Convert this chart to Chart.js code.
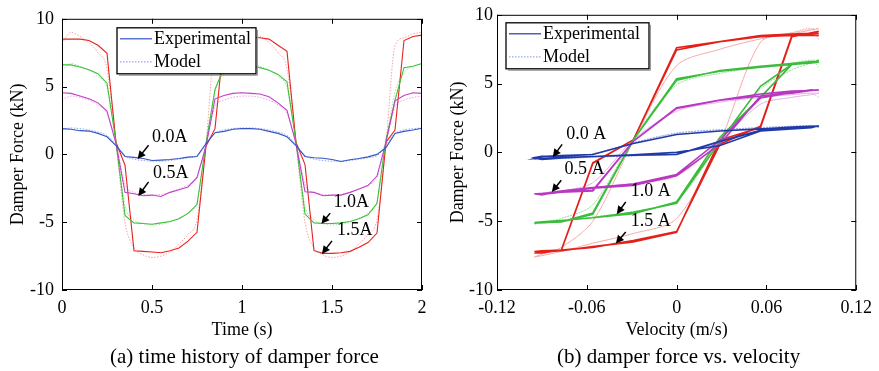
<!DOCTYPE html>
<html>
<head>
<meta charset="UTF-8">
<title>damper force</title>
<script src="https://cdn.jsdelivr.net/npm/chart.js@4.4.0/dist/chart.umd.min.js"></script>
<style>
    body {
        margin: 0;
        background: #fff;
        width: 879px;
        height: 371px;
        overflow: hidden;
        position: relative;
        font-family: 'Liberation Serif', 'Times New Roman', serif;
    }
    .panel { position: absolute; top: 0; height: 345px; }
    #boxA { left: 0; width: 440px; }
    #boxB { left: 440px; width: 439px; }
    .cap {
        position: absolute;
        top: 344px;
        font-size: 21px;
        line-height: 24px;
        white-space: nowrap;
        color: #000;
    }
    #capA { left: 110px; }
    #capB { left: 557px; }
</style>
</head>
<body>
<div class="panel" id="boxA"><canvas id="chartA"></canvas></div>
<div class="panel" id="boxB"><canvas id="chartB"></canvas></div>
<div class="cap" id="capA">(a) time history of damper force</div>
<div class="cap" id="capB">(b) damper force vs. velocity</div>

<script>
// sample times (s)
const timeS = [0, 0.05, 0.1, 0.15, 0.2, 0.25, 0.3, 0.35, 0.4, 0.45, 0.5, 0.55, 0.6, 0.65, 0.7, 0.75, 0.8, 0.85, 0.9, 0.95, 1.0,
               1.05, 1.1, 1.15, 1.2, 1.25, 1.3, 1.35, 1.4, 1.45, 1.5, 1.55, 1.6, 1.65, 1.7, 1.75, 1.8, 1.85, 1.9, 1.95, 2.0];
// velocity at the same samples (m/s)
const velocity = [0.095, 0.090, 0.077, 0.056, 0.029, 0.0, -0.029, -0.056, -0.077, -0.090, -0.095, -0.090, -0.077, -0.056, -0.029, 0.0, 0.029, 0.056, 0.077, 0.090, 0.095,
                  0.090, 0.077, 0.056, 0.029, 0.0, -0.029, -0.056, -0.077, -0.090, -0.095, -0.090, -0.077, -0.056, -0.029, 0.0, 0.029, 0.056, 0.077, 0.090, 0.095];

// experimental damper force (kN)
const exp00 = [1.9, 1.85, 1.75, 1.72, 1.55, 1.3, 0.65, -0.15, -0.22, -0.3, -0.45, -0.42, -0.38, -0.3, -0.2, -0.15, 0.8, 1.6, 1.7, 1.85, 1.9,
               1.9, 1.85, 1.7, 1.55, 1.3, 0.65, -0.15, -0.25, -0.28, -0.38, -0.52, -0.4, -0.3, -0.18, 0.0, 0.5, 1.55, 1.7, 1.8, 1.93];
const exp05 = [4.55, 4.5, 4.3, 4.1, 3.8, 3.2, 0.8, -2.8, -2.9, -3.05, -3.0, -3.1, -2.8, -2.6, -2.4, -1.7, 0.6, 4.1, 4.35, 4.5, 4.55,
               4.5, 4.45, 4.25, 3.8, 3.25, 0.8, -2.75, -2.8, -3.05, -3.0, -3.0, -2.8, -2.55, -2.3, -1.6, 0.9, 3.95, 4.35, 4.55, 4.5];
const exp10 = [6.6, 6.6, 6.45, 6.25, 5.95, 5.25, 0.9, -4.5, -5.05, -5.1, -5.15, -5.05, -4.95, -4.75, -4.35, -3.7, 0.8, 4.8, 6.4, 6.5, 6.55,
               6.5, 6.4, 6.2, 5.9, 5.35, 0.9, -4.4, -5.05, -5.1, -5.1, -5.05, -4.95, -4.75, -4.45, -3.6, 1.1, 4.0, 6.4, 6.5, 6.7];
const exp15 = [8.5, 8.5, 8.5, 8.4, 8.05, 7.45, 0.9, -0.8, -7.1, -7.15, -7.2, -7.25, -7.1, -6.9, -6.4, -5.75, 0.6, 1.9, 8.5, 8.6, 8.65,
               8.65, 8.6, 8.5, 8.05, 7.6, 0.9, -0.75, -7.1, -7.3, -7.3, -7.25, -7.15, -6.85, -6.5, -5.8, 0.9, 1.8, 8.4, 8.7, 8.8];

// model damper force (kN)
const mod00 = [1.8, 1.95, 1.9, 1.8, 1.65, 1.4, 0.7, -0.1, -0.35, -0.45, -0.5, -0.5, -0.45, -0.35, -0.25, -0.1, 0.7, 1.55, 1.8, 1.9, 1.95,
               1.95, 1.9, 1.8, 1.65, 1.4, 0.7, -0.1, -0.35, -0.45, -0.5, -0.5, -0.45, -0.35, -0.25, -0.1, 0.7, 1.55, 1.8, 1.9, 1.95];
const mod05 = [4.0, 4.3, 4.2, 4.0, 3.65, 3.0, 0.9, -2.2, -2.8, -2.95, -3.0, -2.95, -2.8, -2.55, -2.25, -1.7, 0.8, 3.5, 4.0, 4.2, 4.3,
               4.3, 4.2, 4.0, 3.65, 3.0, 0.9, -2.2, -2.8, -2.95, -3.0, -2.95, -2.8, -2.55, -2.25, -1.7, 0.8, 3.5, 4.0, 4.2, 4.3];
const mod10 = [6.2, 6.7, 6.5, 6.2, 5.75, 4.9, 1.0, -3.8, -4.8, -5.1, -5.2, -5.15, -5.0, -4.7, -4.3, -3.5, 0.8, 4.6, 6.0, 6.5, 6.7,
               6.7, 6.5, 6.2, 5.75, 4.9, 1.0, -3.8, -4.8, -5.1, -5.2, -5.15, -5.0, -4.7, -4.3, -3.5, 0.8, 4.6, 6.0, 6.5, 6.7];
const mod15 = [8.2, 9.0, 8.7, 8.25, 7.5, 6.3, 0.8, -5.0, -6.9, -7.4, -7.6, -7.5, -7.2, -6.6, -5.9, -4.8, 0.8, 8.0, 8.6, 8.9, 9.0,
               8.95, 8.7, 8.25, 7.5, 6.3, 0.8, -5.0, -6.9, -7.4, -7.6, -7.5, -7.2, -6.6, -5.9, -4.8, 0.8, 8.0, 8.6, 8.9, 9.0];

// axis ticks
const yTicks = [-10, -5, 0, 5, 10];
const xTicksA = [0, 0.5, 1, 1.5, 2];
const xTickLabelsA = ['0', '0.5', '1', '1.5', '2'];
const xTicksB = [-0.12, -0.06, 0, 0.06, 0.12];
const xTickLabelsB = ['-0.12', '-0.06', '0', '0.06', '0.12'];

// current labels
const currents = ['0.0A', '0.5A', '1.0A', '1.5A'];

const FONT = "'Liberation Serif', 'Times New Roman', serif";
const expColors = ['#3355c0', '#c040c8', '#3cc03c', '#e8231e'];
const expColorsB = ['#1f3aa6', '#b838c0', '#3cbc3c', '#e4201b'];
const modColors = ['#9aa6ea', '#e6a6ea', '#a6e2a6', '#f5a4a4'];
const expSets = [exp00, exp05, exp10, exp15];
const modSets = [mod00, mod05, mod10, mod15];

// inward ticks + frame box
const framePlugin = {
    id: 'frameBox',
    afterDatasetsDraw(chart) {
        const {ctx, chartArea: a, scales: {x, y}} = chart;
        const len = 5;
        ctx.save();
        ctx.strokeStyle = '#000';
        ctx.lineWidth = 1;
        ctx.strokeRect(a.left + 0.5, a.top + 0.5, a.right - a.left - 1, a.bottom - a.top - 1);
        ctx.beginPath();
        x.ticks.forEach(t => {
            const px = Math.round(x.getPixelForValue(t.value)) + 0.5;
            ctx.moveTo(px, a.bottom); ctx.lineTo(px, a.bottom - len);
            ctx.moveTo(px, a.top); ctx.lineTo(px, a.top + len);
        });
        y.ticks.forEach(t => {
            const py = Math.round(y.getPixelForValue(t.value)) + 0.5;
            ctx.moveTo(a.left, py); ctx.lineTo(a.left + len, py);
            ctx.moveTo(a.right, py); ctx.lineTo(a.right - len, py);
        });
        ctx.stroke();
        ctx.restore();
    }
};

// arrows with current labels + legend box
const notePlugin = {
    id: 'notes',
    afterDraw(chart, args, opts) {
        const {ctx, chartArea: a, scales: {x, y}} = chart;
        ctx.save();
        ctx.font = '18px ' + FONT;
        ctx.fillStyle = '#000';
        ctx.strokeStyle = '#000';
        ctx.textBaseline = 'middle';
        ctx.textAlign = 'left';
        opts.notes.forEach(n => {
            ctx.fillText(n.text, x.getPixelForValue(n.tx), y.getPixelForValue(n.ty));
            const x1 = x.getPixelForValue(n.from[0]), y1 = y.getPixelForValue(n.from[1]);
            const x2 = x.getPixelForValue(n.to[0]), y2 = y.getPixelForValue(n.to[1]);
            const ang = Math.atan2(y2 - y1, x2 - x1);
            ctx.lineWidth = 1.5;
            ctx.beginPath();
            ctx.moveTo(x1, y1);
            ctx.lineTo(x2 - 4 * Math.cos(ang), y2 - 4 * Math.sin(ang));
            ctx.stroke();
            ctx.beginPath();
            ctx.moveTo(x2, y2);
            ctx.lineTo(x2 - 8 * Math.cos(ang) + 4 * Math.sin(ang), y2 - 8 * Math.sin(ang) - 4 * Math.cos(ang));
            ctx.lineTo(x2 - 8 * Math.cos(ang) - 4 * Math.sin(ang), y2 - 8 * Math.sin(ang) + 4 * Math.cos(ang));
            ctx.closePath();
            ctx.fill();
        });

        // legend
        const L = opts.legend;
        const lx = a.left + L.dx, ly = a.top + L.dy;
        ctx.fillStyle = '#fff';
        ctx.fillRect(lx, ly, L.w, L.h);
        ctx.strokeStyle = '#999';
        ctx.lineWidth = 1;
        ctx.beginPath();
        ctx.moveTo(lx + 2, ly + L.h + 1.5); ctx.lineTo(lx + L.w + 1.5, ly + L.h + 1.5); ctx.lineTo(lx + L.w + 1.5, ly + 2);
        ctx.stroke();
        ctx.strokeStyle = '#000';
        ctx.lineWidth = 1.3;
        ctx.strokeRect(lx, ly, L.w, L.h);
        const rows = [
            {text: 'Experimental', color: L.expColor, dash: [], dy: 11},
            {text: 'Model', color: modColors[0], dash: [1.5, 1.5], dy: 34}
        ];
        rows.forEach(r => {
            ctx.strokeStyle = r.color;
            ctx.lineWidth = 1.2;
            ctx.setLineDash(r.dash);
            ctx.beginPath();
            ctx.moveTo(lx + 3, ly + r.dy);
            ctx.lineTo(lx + 35, ly + r.dy);
            ctx.stroke();
            ctx.setLineDash([]);
            ctx.fillStyle = '#000';
            ctx.fillText(r.text, lx + 37, ly + r.dy + 0.5);
        });
        ctx.restore();
    }
};

function scaleX(min, max, ticks, labels, title, tickPad) {
    return {
        type: 'linear', min: min, max: max,
        afterBuildTicks: s => { s.ticks = ticks.map(v => ({value: v})); },
        afterFit: s => { s.height = 55; },
        ticks: {
            font: {family: FONT, size: 18}, color: '#000', padding: tickPad, maxRotation: 0,
            callback: (v, i) => labels[i]
        },
        grid: {display: false, drawTicks: false},
        border: {display: false},
        title: {display: true, text: title, color: '#000', font: {family: FONT, size: 18, lineHeight: 1.2}, padding: {top: 0, bottom: 4}}
    };
}

function scaleY(width, tickPad) {
    return {
        type: 'linear', min: -10, max: 10,
        afterBuildTicks: s => { s.ticks = yTicks.map(v => ({value: v})); },
        afterFit: s => { s.width = width; },
        ticks: {
            font: {family: FONT, size: 18}, color: '#000', padding: tickPad,
            callback: v => String(v)
        },
        grid: {display: false, drawTicks: false},
        border: {display: false},
        title: {display: true, text: 'Damper Force (kN)', color: '#000', font: {family: FONT, size: 18, lineHeight: 1.2}, padding: {top: 7, bottom: 0}}
    };
}

// (a) time history
const dsA = [];
expSets.forEach((s, k) => dsA.push({
    label: 'Experimental ' + currents[k],
    data: timeS.map((t, i) => ({x: t, y: s[i]})),
    borderColor: expColors[k], borderWidth: 1.1, pointRadius: 0, tension: 0
}));
modSets.forEach((s, k) => dsA.push({
    label: 'Model ' + currents[k],
    data: timeS.map((t, i) => ({x: t, y: s[i]})),
    borderColor: modColors[k], borderWidth: 1, borderDash: [1.5, 1.5], pointRadius: 0,
    cubicInterpolationMode: 'monotone'
}));

new Chart(document.getElementById('chartA'), {
    type: 'line',
    data: {datasets: dsA},
    options: {
        responsive: true, maintainAspectRatio: false, animation: false,
        layout: {padding: {top: 14, right: 18, left: 0, bottom: 0}},
        plugins: {
            legend: {display: false}, tooltip: {enabled: false},
            notes: {
                legend: {dx: 55, dy: 9, w: 139, h: 46, expColor: expColors[0]},
                notes: [
                    {text: '0.0A', tx: 0.5, ty: 1.3, from: [0.481, 0.67], to: [0.42, -0.34]},
                    {text: '0.5A', tx: 0.506, ty: -1.36, from: [0.481, -2.03], to: [0.424, -3.07]},
                    {text: '1.0A', tx: 1.509, ty: -3.54, from: [1.49, -4.33], to: [1.441, -5.12]},
                    {text: '1.5A', tx: 1.528, ty: -5.58, from: [1.5, -6.38], to: [1.444, -7.34]}
                ]
            }
        },
        scales: {
            x: scaleX(0, 2, xTicksA, xTickLabelsA, 'Time (s)', 7),
            y: scaleY(62, 8)
        }
    },
    plugins: [framePlugin, notePlugin]
});

// (b) force vs velocity
const dsB = [];
expSets.forEach((s, k) => dsB.push({
    label: 'Experimental ' + currents[k],
    data: velocity.map((v, i) => ({x: v, y: s[i]})),
    borderColor: expColorsB[k], borderWidth: 1.6, pointRadius: 0, tension: 0
}));
modSets.forEach((s, k) => dsB.push({
    label: 'Model ' + currents[k],
    data: velocity.map((v, i) => ({x: v, y: s[i]})),
    borderColor: modColors[k], borderWidth: 1, borderDash: [1.5, 1.5], pointRadius: 0, tension: 0.3
}));

new Chart(document.getElementById('chartB'), {
    type: 'line',
    data: {datasets: dsB},
    options: {
        responsive: true, maintainAspectRatio: false, animation: false,
        layout: {padding: {top: 14, right: 20, left: 0, bottom: 0}},
        plugins: {
            legend: {display: false}, tooltip: {enabled: false},
            notes: {
                legend: {dx: 9, dy: 8, w: 143, h: 46, expColor: expColorsB[0]},
                notes: [
                    {text: '0.0 A', tx: -0.0738, ty: 1.3, from: [-0.0765, 0.58], to: [-0.0827, -0.34]},
                    {text: '0.5 A', tx: -0.0749, ty: -1.23, from: [-0.0771, -2.03], to: [-0.0834, -2.88]},
                    {text: '1.0 A', tx: -0.0307, ty: -2.83, from: [-0.034, -3.6], to: [-0.04, -4.49]},
                    {text: '1.5 A', tx: -0.0307, ty: -5.0, from: [-0.034, -5.78], to: [-0.0406, -6.62]}
                ]
            }
        },
        scales: {
            x: scaleX(-0.12, 0.12, xTicksB, xTickLabelsB, 'Velocity (m/s)', 7),
            y: scaleY(57, 4)
        }
    },
    plugins: [framePlugin, notePlugin]
});
</script>
</body>
</html>
